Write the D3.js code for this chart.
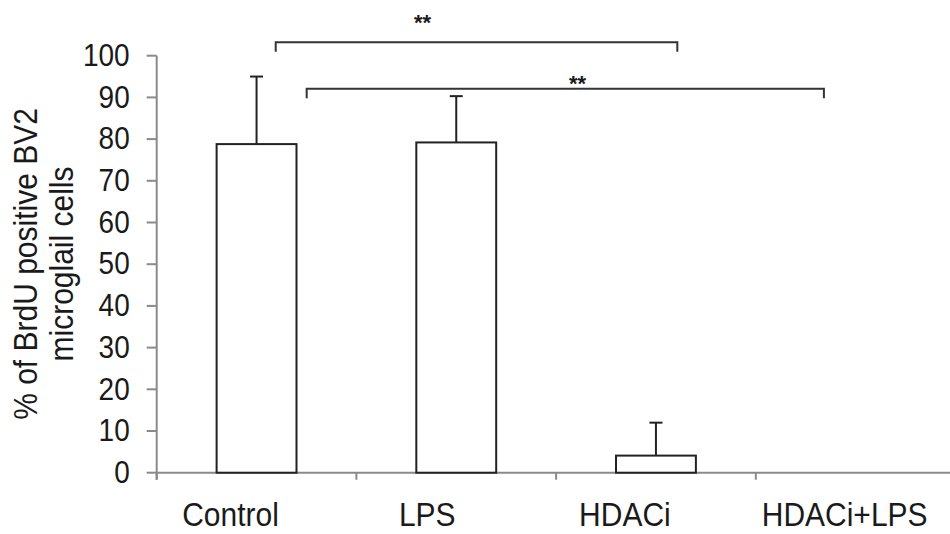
<!DOCTYPE html>
<html>
<head>
<meta charset="utf-8">
<script src="https://cdn.jsdelivr.net/npm/d3@7"></script>
<style>
  body { margin: 0; background: #fff; }
  text { font-family: "Liberation Sans", Arial, sans-serif; fill: #1a1a1a; }
</style>
</head>
<body>
<script>
// data
var groups = ["Control", "LPS", "HDACi", "HDACi+LPS"];
var means = [78.8, 79.2, 4.1, 0];
var errs = [16.2, 11.1, 7.9, 0];
var yTicks = [0, 10, 20, 30, 40, 50, 60, 70, 80, 90, 100];
// significance brackets, x in category units, y in % units
var sigFrom = [0.596, 0.751];
var sigTo = [2.607, 3.341];
var sigLevel = [103.2, 92.1];
var sigLabel = ["**", "**"];
var sigLabelX = [1.331, 2.107];
var sigLabelY = [109.1, 94.4];

var W = 950, H = 534;
var x0 = 156.7, x1 = 955.5, yTop = 55.7, yBot = 472.7;
var labelShift = [-26, -29, -31, -11];
var stretch = 1.12;

var svg = d3.select("body").append("svg")
  .attr("width", W).attr("height", H);

var x = d3.scaleBand().domain(groups).range([x0, x1]).paddingInner(0.6).paddingOuter(0.3);
var xu = d3.scaleLinear().domain([0, 4]).range([x0, x1]);
var y = d3.scaleLinear().domain([0, 100]).range([yBot, yTop]);

var axisColor = "#8a8a8a";

// y axis
var gy = svg.append("g");
gy.append("line")
  .attr("x1", x0).attr("x2", x0)
  .attr("y1", y(100)).attr("y2", yBot + 7)
  .attr("stroke", axisColor).attr("stroke-width", 2);
gy.selectAll(".tk").data(yTicks).enter().append("line")
  .attr("x1", x0 - 10).attr("x2", x0)
  .attr("y1", function(d) { return y(d); })
  .attr("y2", function(d) { return y(d); })
  .attr("stroke", axisColor).attr("stroke-width", 2);
gy.selectAll(".lb").data(yTicks).enter().append("text")
  .attr("transform", function(d) { return "translate(" + (x0 - 27) + "," + (y(d) - 1) + ") scale(1," + stretch + ")"; })
  .attr("dy", "0.36em")
  .attr("text-anchor", "end")
  .style("font-size", "28px")
  .text(function(d) { return d; });

// x axis
var gx = svg.append("g");
gx.append("line")
  .attr("x1", x0).attr("x2", x1)
  .attr("y1", yBot).attr("y2", yBot)
  .attr("stroke", axisColor).attr("stroke-width", 2);
gx.selectAll(".tk").data(d3.range(groups.length + 1)).enter().append("line")
  .attr("x1", function(d) { return xu(d); })
  .attr("x2", function(d) { return xu(d); })
  .attr("y1", yBot).attr("y2", yBot + 7)
  .attr("stroke", axisColor).attr("stroke-width", 2);
gx.selectAll(".lb").data(groups).enter().append("text")
  .attr("transform", function(d, i) {
    return "translate(" + (x(d) + x.bandwidth() / 2 + labelShift[i]) + ",526) scale(1," + stretch + ")";
  })
  .attr("text-anchor", "middle")
  .style("font-size", "30px")
  .text(function(d) { return d; });

// y label
svg.append("text")
  .attr("transform", "translate(37,264) rotate(-90) scale(1," + stretch + ")")
  .attr("text-anchor", "middle")
  .style("font-size", "30px")
  .text("% of BrdU positive BV2");
svg.append("text")
  .attr("transform", "translate(73,264) rotate(-90) scale(1," + stretch + ")")
  .attr("text-anchor", "middle")
  .style("font-size", "30px")
  .text("microglail cells");

// bars
var bars = svg.append("g");
bars.selectAll("rect").data(groups).enter()
  .filter(function(d, i) { return means[i] > 0; })
  .append("rect")
  .attr("x", function(d) { return x(d); })
  .attr("y", function(d) { return y(means[groups.indexOf(d)]); })
  .attr("width", x.bandwidth())
  .attr("height", function(d) { return yBot - y(means[groups.indexOf(d)]); })
  .attr("fill", "#fff").attr("stroke", "#222").attr("stroke-width", 2);

// error bars
var eb = svg.append("g").attr("stroke", "#222").attr("stroke-width", 2);
groups.forEach(function(g, i) {
  if (errs[i] <= 0) return;
  var cx = x(g) + x.bandwidth() / 2;
  eb.append("line").attr("x1", cx).attr("x2", cx)
    .attr("y1", y(means[i])).attr("y2", y(means[i] + errs[i]));
  eb.append("line").attr("x1", cx - 6.5).attr("x2", cx + 6.5)
    .attr("y1", y(means[i] + errs[i])).attr("y2", y(means[i] + errs[i]));
});

// significance brackets
var sg = svg.append("g");
sigFrom.forEach(function(f, i) {
  var yl = y(sigLevel[i]);
  sg.append("path")
    .attr("d", "M" + xu(f) + "," + (yl + 9.5) + "V" + yl + "H" + xu(sigTo[i]) + "V" + (yl + 9.5))
    .attr("fill", "none").attr("stroke", "#333").attr("stroke-width", 2);
  sg.append("text")
    .attr("x", xu(sigLabelX[i]))
    .attr("y", y(sigLabelY[i]) + 12)
    .attr("text-anchor", "middle")
    .style("font-size", "22px")
    .style("font-weight", "bold")
    .text(sigLabel[i]);
});
</script>
</body>
</html>
